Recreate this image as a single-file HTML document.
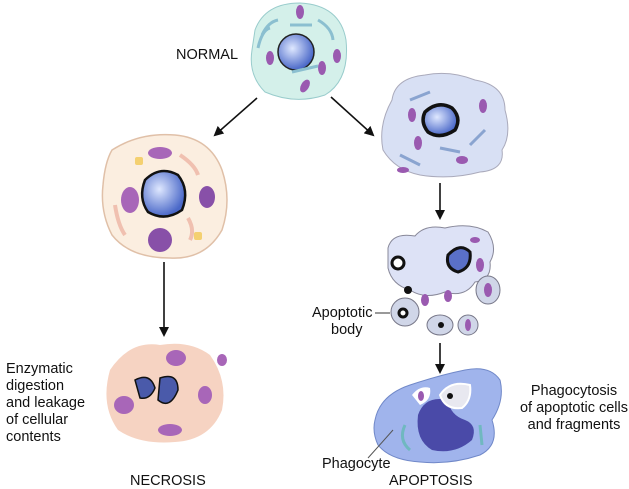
<!DOCTYPE html>
<html><head><meta charset="utf-8"><style>
html,body{margin:0;padding:0;background:#fff;}
svg{display:block}
text{font-family:"Liberation Sans",sans-serif;font-size:14.5px;fill:#111}
</style></head><body>
<svg width="629" height="489" viewBox="0 0 629 489" xmlns="http://www.w3.org/2000/svg">
<defs>
<marker id="ah" markerWidth="10" markerHeight="10" refX="8" refY="5" orient="auto" markerUnits="userSpaceOnUse">
<path d="M0,0 L10,5 L0,10 Z" fill="#111"/></marker>
<radialGradient id="nuc" cx="40%" cy="40%" r="60%"><stop offset="0" stop-color="#dfe8ff"/><stop offset="1" stop-color="#4a68c8"/></radialGradient>
</defs>
<!-- Normal cell -->
<path d="M255,30 Q265,3 300,3 Q340,5 346,40 Q350,80 325,95 Q295,105 265,92 Q248,75 252,50 Z" fill="#d4f0ea" stroke="#9cc" stroke-width="1"/>
<circle cx="296" cy="52" r="18" fill="url(#nuc)" stroke="#222" stroke-width="1.5"/>
<ellipse cx="300" cy="12" rx="4" ry="7" fill="#9a5ab0"/>
<ellipse cx="270" cy="58" rx="4" ry="7" fill="#9a5ab0"/>
<ellipse cx="337" cy="56" rx="4" ry="7" fill="#9a5ab0"/>
<ellipse cx="322" cy="68" rx="4" ry="7" fill="#9a5ab0"/>
<ellipse cx="305" cy="86" rx="4" ry="7" fill="#9a5ab0" transform="rotate(30 305 86)"/>
<path d="M262,35 Q268,22 278,20 M258,48 Q262,30 270,28 M318,20 Q332,28 333,40 M290,25 L312,25 M292,72 L318,66" stroke="#8bbfd0" stroke-width="3" fill="none"/>
<text x="176" y="59">NORMAL</text>
<!-- arrows -->
<line x1="257" y1="98" x2="215" y2="135" stroke="#111" stroke-width="1.6" marker-end="url(#ah)"/>
<line x1="331" y1="97" x2="373" y2="135" stroke="#111" stroke-width="1.6" marker-end="url(#ah)"/>
<line x1="164" y1="262" x2="164" y2="335" stroke="#111" stroke-width="1.6" marker-end="url(#ah)"/>
<line x1="440" y1="183" x2="440" y2="218" stroke="#111" stroke-width="1.6" marker-end="url(#ah)"/>
<line x1="440" y1="343" x2="440" y2="372" stroke="#111" stroke-width="1.6" marker-end="url(#ah)"/>
<!-- swollen necrotic cell -->
<path d="M112,150 Q140,132 175,135 Q210,138 222,170 Q232,200 222,230 Q205,260 170,258 Q130,258 112,235 Q100,212 103,185 Q105,162 112,150 Z" fill="#fbeee0" stroke="#e0c0a8" stroke-width="1.5"/>
<path d="M145,180 Q160,165 178,175 Q190,190 182,210 Q165,222 148,212 Q138,198 145,180 Z" fill="url(#nuc)" stroke="#111" stroke-width="2.5"/>
<ellipse cx="160" cy="153" rx="12" ry="6" fill="#a866b8"/>
<ellipse cx="130" cy="200" rx="9" ry="13" fill="#a866b8"/>
<ellipse cx="207" cy="197" rx="8" ry="11" fill="#8850a8"/>
<circle cx="160" cy="240" r="12" fill="#8850a8"/>
<path d="M180,155 Q195,165 198,175 M188,218 Q195,230 190,240 M115,205 Q118,225 125,235" stroke="#f0c0b0" stroke-width="4" fill="none"/>
<rect x="135" y="157" width="8" height="8" rx="2" fill="#f4d070"/>
<rect x="194" y="232" width="8" height="8" rx="2" fill="#f4d070"/>
<!-- necrotic mass -->
<path d="M110,370 Q130,340 160,345 Q190,340 210,355 Q228,380 222,410 Q210,440 175,442 Q140,445 118,430 Q100,405 110,370 Z" fill="#f6d3c2"/>
<path d="M135,380 Q150,372 155,388 Q150,400 140,398 Z M160,378 Q178,372 178,390 Q170,410 158,400 Z" fill="#4a5aaa" stroke="#111" stroke-width="1.5"/>
<ellipse cx="176" cy="358" rx="10" ry="8" fill="#a866b8"/>
<ellipse cx="124" cy="405" rx="10" ry="9" fill="#a866b8"/>
<ellipse cx="170" cy="430" rx="12" ry="6" fill="#a866b8"/>
<ellipse cx="205" cy="395" rx="7" ry="9" fill="#a866b8"/>
<ellipse cx="222" cy="360" rx="5" ry="6" fill="#a866b8"/>
<text x="6" y="373">Enzymatic</text>
<text x="6" y="390">digestion</text>
<text x="6" y="407">and leakage</text>
<text x="6" y="424">of cellular</text>
<text x="6" y="441">contents</text>
<text x="130" y="485">NECROSIS</text>
<!-- apoptotic cell 1 -->
<path d="M392,100 Q395,78 425,75 Q450,70 475,80 Q505,85 505,110 Q512,135 502,150 Q505,170 480,172 Q450,180 420,175 Q395,170 383,150 Q378,125 392,100 Z" fill="#d8e0f4" stroke="#aab" stroke-width="1"/>
<path d="M425,112 Q438,100 452,108 Q462,118 455,130 Q440,140 428,132 Q420,122 425,112 Z" fill="url(#nuc)" stroke="#111" stroke-width="3.5"/>
<ellipse cx="412" cy="115" rx="4" ry="7" fill="#9a5ab0"/>
<ellipse cx="483" cy="106" rx="4" ry="7" fill="#9a5ab0"/>
<ellipse cx="418" cy="143" rx="4" ry="7" fill="#9a5ab0"/>
<ellipse cx="462" cy="160" rx="6" ry="4" fill="#9a5ab0"/>
<ellipse cx="403" cy="170" rx="6" ry="3" fill="#9a5ab0"/>
<path d="M410,100 L430,92 M400,155 L420,165 M470,145 L485,130 M440,148 L460,152" stroke="#8aa4d0" stroke-width="3" fill="none"/>
<!-- fragmenting cell -->
<path d="M388,248 Q392,232 415,236 Q425,224 445,228 Q470,222 488,232 Q498,248 490,262 Q492,280 475,282 Q465,298 445,292 Q425,300 410,290 Q392,285 388,268 Z" fill="#dde2f6" stroke="#889" stroke-width="1"/>
<path d="M448,255 Q460,242 470,252 Q472,268 458,272 Q445,268 448,255 Z" fill="#5a70c8" stroke="#111" stroke-width="3"/>
<circle cx="398" cy="263" r="6" fill="#fff" stroke="#111" stroke-width="3"/>
<circle cx="408" cy="290" r="4" fill="#111"/>
<ellipse cx="405" cy="312" rx="14" ry="14" fill="#d0d6e8" stroke="#778"/>
<circle cx="403" cy="313" r="4" fill="#fff" stroke="#111" stroke-width="3"/>
<ellipse cx="440" cy="325" rx="13" ry="10" fill="#d0d6e8" stroke="#778"/>
<circle cx="441" cy="325" r="3" fill="#111"/>
<ellipse cx="468" cy="325" rx="10" ry="10" fill="#d0d6e8" stroke="#778"/>
<ellipse cx="468" cy="325" rx="3" ry="6" fill="#9a5ab0"/>
<ellipse cx="488" cy="290" rx="12" ry="14" fill="#d0d6e8" stroke="#778"/>
<ellipse cx="488" cy="290" rx="4" ry="7" fill="#9a5ab0"/>
<ellipse cx="480" cy="265" rx="4" ry="7" fill="#9a5ab0"/>
<ellipse cx="425" cy="300" rx="4" ry="6" fill="#9a5ab0"/>
<ellipse cx="448" cy="296" rx="4" ry="6" fill="#9a5ab0"/>
<ellipse cx="475" cy="240" rx="5" ry="3" fill="#9a5ab0"/>
<text x="312" y="317">Apoptotic</text>
<text x="331" y="334">body</text>
<line x1="375" y1="313" x2="390" y2="313" stroke="#333"/>
<!-- phagocyte -->
<path d="M375,420 Q380,395 410,385 Q440,375 465,370 Q490,365 500,380 Q505,400 492,420 Q500,445 480,455 Q450,465 420,462 Q390,460 378,445 Q372,432 375,420 Z" fill="#a0b4ec" stroke="#7088c8" stroke-width="1"/>
<path d="M418,415 Q425,395 448,400 Q450,415 465,420 Q478,425 472,440 Q455,455 432,450 Q415,440 418,415 Z" fill="#4a4aa8"/>
<path d="M412,395 Q420,385 430,388 Q432,400 420,405 Z" fill="#fff"/>
<ellipse cx="421" cy="396" rx="3" ry="5" fill="#9a5ab0"/>
<path d="M440,395 Q450,380 470,385 Q472,400 462,408 Q445,410 440,395 Z" fill="#e8e8f0" stroke="#fff" stroke-width="2"/>
<circle cx="450" cy="396" r="3" fill="#111"/>
<path d="M405,425 Q398,440 410,450 M480,425 L482,445" stroke="#70b8c0" stroke-width="3" fill="none"/>
<text x="322" y="468">Phagocyte</text>
<line x1="368" y1="458" x2="393" y2="430" stroke="#555"/>
<text x="574" y="395" text-anchor="middle">Phagocytosis</text>
<text x="574" y="412" text-anchor="middle">of apoptotic cells</text>
<text x="574" y="429" text-anchor="middle">and fragments</text>
<text x="389" y="485">APOPTOSIS</text>
</svg>
</body></html>
